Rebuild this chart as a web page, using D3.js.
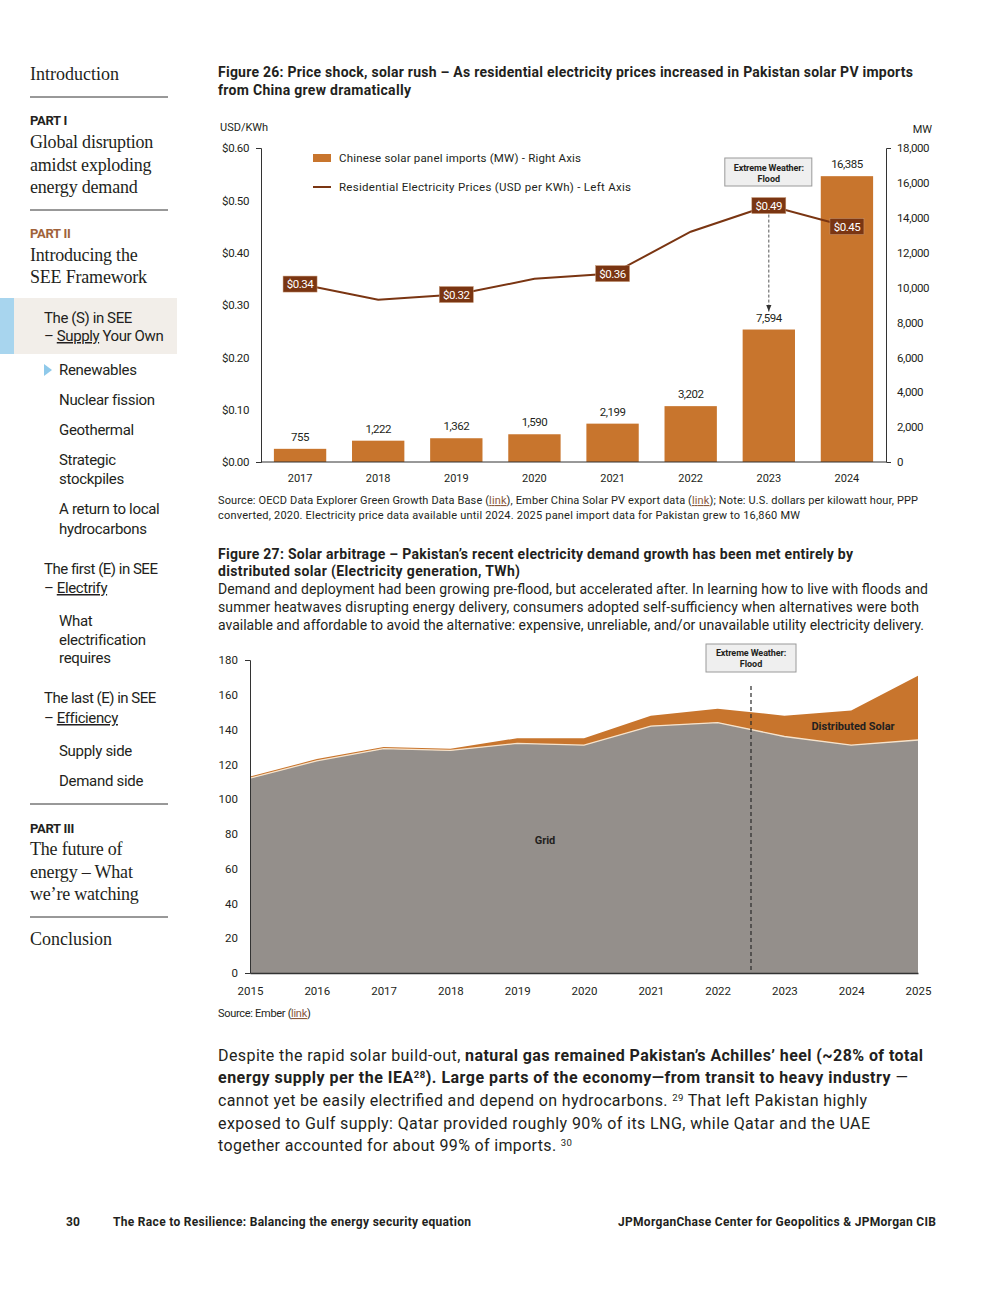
<!DOCTYPE html>
<html><head><meta charset="utf-8">
<script src="https://cdn.jsdelivr.net/npm/d3@7"></script>
<style>
html,body{margin:0;padding:0;background:#fff;}
svg{display:block;}
text{fill:#231f20;}
</style></head>
<body>
<svg id="page" width="1000" height="1293"></svg>
<script>
// ---------------- DATA ----------------
const years26 = ["2017","2018","2019","2020","2021","2022","2023","2024"];
const solarImportsMW = [755,1222,1362,1590,2199,3202,7594,16385];
const electricityPrice = [0.34,0.31,0.32,0.35,0.36,0.44,0.49,0.45];
const priceLabelYears = ["2017","2019","2021","2023","2024"];
const leftTicks26 = [0,0.1,0.2,0.3,0.4,0.5,0.6];
const rightTicks26 = [0,2000,4000,6000,8000,10000,12000,14000,16000,18000];

const years27 = [2015,2016,2017,2018,2019,2020,2021,2022,2023,2024,2025];
const gridTWh = [112,122,129,128,132,131,142,144,136,131,134];
const distributedSolarTWh = [1,1,1,1,3,4,6,8,12,20,37];
const yTicks27 = [0,20,40,60,80,100,120,140,160,180];
const floodYear = 2022.5;

const svg = d3.select("#page");
const SANS = "Roboto, 'Liberation Sans', sans-serif";
const SERIF = "'Liberation Serif', 'DejaVu Serif', serif";
const INK = "#231f20";
const ORANGE = "#c8752d";
const BROWN = "#7a3512";

function txt(x, y, s, o = {}) {
  const t = svg.append("text").attr("x", x).attr("y", y)
    .attr("font-family", o.family || SANS)
    .attr("font-size", o.size || 12)
    .attr("font-weight", o.weight || 400)
    .attr("text-anchor", o.anchor || "start")
    .style("fill", o.fill || INK);
  if (o.ls != null) t.attr("letter-spacing", o.ls);
  if (o.len) t.attr("textLength", o.len).attr("lengthAdjust", "spacing");
  if (Array.isArray(s)) {
    s.forEach(p => {
      const ts = t.append("tspan").text(p.t);
      if (p.b) ts.attr("font-weight", 700);
      if (p.sup) ts.attr("font-size", (o.size || 12) * 0.6).attr("baseline-shift", "super");
      if (p.u) ts.style("text-decoration", "underline");
      if (p.link) ts.style("fill", "#8a5a3c").style("text-decoration", "underline");
    });
  } else t.text(s);
  return t;
}
function hline(x1, x2, y, c = "#333", w = 1) {
  svg.append("line").attr("x1", x1).attr("x2", x2).attr("y1", y).attr("y2", y)
    .attr("stroke", c).attr("stroke-width", w);
}

// ---------------- SIDEBAR ----------------
txt(30, 80, "Introduction", {family: SERIF, size: 18});
hline(30, 168, 97);
txt(30, 125, "PART I", {size: 13, weight: 700, ls: -0.3});
["Global disruption", "amidst exploding", "energy demand"].forEach((s, i) =>
  txt(30, 148 + i * 22.5, s, {family: SERIF, size: 18, ls: -0.2}));
hline(30, 168, 210);
txt(30, 238, "PART II", {size: 13, weight: 700, ls: -0.3, fill: "#a0623a"});
["Introducing the", "SEE Framework"].forEach((s, i) =>
  txt(30, 261 + i * 22, s, {family: SERIF, size: 18, ls: -0.2}));
svg.append("rect").attr("x", 0).attr("y", 298).attr("width", 177).attr("height", 56).attr("fill", "#f2eee9");
svg.append("rect").attr("x", 0).attr("y", 298).attr("width", 14).attr("height", 56).attr("fill", "#a8d5ee");
txt(44, 323, "The (S) in SEE", {size: 15, ls: -0.4});
txt(44, 341, [{t: "– "}, {t: "Supply", u: true}, {t: " Your Own"}], {size: 15, ls: -0.4});
svg.append("path").attr("d", "M44,364 L52,370 L44,376 Z").attr("fill", "#8fc9ea");
const sub = [["Renewables", 375], ["Nuclear fission", 405], ["Geothermal", 435], ["Strategic", 465],
  ["stockpiles", 484], ["A return to local", 514], ["hydrocarbons", 534], ["What", 626],
  ["electrification", 645], ["requires", 663], ["Supply side", 756], ["Demand side", 786]];
sub.forEach(d => txt(59, d[1], d[0], {size: 15, ls: -0.3}));
txt(44, 574, "The first (E) in SEE", {size: 15, ls: -0.5});
txt(44, 593, [{t: "– "}, {t: "Electrify", u: true}], {size: 15, ls: -0.4});
txt(44, 703, "The last (E) in SEE", {size: 15, ls: -0.5});
txt(44, 723, [{t: "– "}, {t: "Efficiency", u: true}], {size: 15, ls: -0.4});
hline(30, 168, 804);
txt(30, 833, "PART III", {size: 13, weight: 700, ls: -0.3});
["The future of", "energy – What", "we’re watching"].forEach((s, i) =>
  txt(30, 855 + i * 22.5, s, {family: SERIF, size: 18, ls: -0.2}));
hline(30, 168, 917);
txt(30, 945, "Conclusion", {family: SERIF, size: 18});

// ---------------- FIGURE 26 ----------------
txt(218, 77, "Figure 26: Price shock, solar rush – As residential electricity prices increased in Pakistan solar PV imports", {size: 14, weight: 700, len: 695});
txt(218, 95, "from China grew dramatically", {size: 14, weight: 700, len: 193});
txt(220, 131, "USD/KWh", {size: 11});
txt(932, 133, "MW", {size: 11, anchor: "end"});

const x26 = d3.scaleBand().domain(years26).range([261, 886]).paddingInner(0.33).paddingOuter(0.165);
const yL = d3.scaleLinear().domain([0, 0.6]).range([462, 148]);
const yR = d3.scaleLinear().domain([0, 18000]).range([462, 148]);

const gL = svg.append("g").attr("transform", "translate(261,0)")
  .call(d3.axisLeft(yL).tickValues(leftTicks26).tickFormat(d3.format("$.2f")).tickSizeInner(0).tickSizeOuter(5).tickPadding(12));
const gR = svg.append("g").attr("transform", "translate(886,0)")
  .call(d3.axisRight(yR).tickValues(rightTicks26).tickFormat(d3.format(",")).tickSizeInner(0).tickSizeOuter(5).tickPadding(11));
[gL, gR].forEach(g => {
  g.selectAll("path").attr("stroke", "#333");
  g.selectAll("text").attr("font-family", SANS).attr("font-size", 11.5).style("fill", INK).attr("letter-spacing", -0.4);
});

const bars = years26.map((y, i) => ({y, v: solarImportsMW[i]}));
svg.append("g").selectAll("rect").data(bars).join("rect")
  .attr("x", d => x26(d.y)).attr("width", x26.bandwidth())
  .attr("y", d => yR(d.v)).attr("height", d => yR(0) - yR(d.v))
  .attr("fill", ORANGE);
svg.append("g").selectAll("text").data(bars).join("text")
  .attr("x", d => x26(d.y) + x26.bandwidth() / 2).attr("y", d => yR(d.v) - 8)
  .attr("text-anchor", "middle").attr("font-family", SANS).attr("font-size", 11.5)
  .attr("letter-spacing", -0.5).style("fill", INK)
  .text(d => d3.format(",")(d.v));

const gX = svg.append("g").attr("transform", "translate(0,462)")
  .call(d3.axisBottom(x26).tickSize(0).tickPadding(12));
gX.select("path").attr("stroke", "#333").attr("d", "M261,0H886");
gX.selectAll("text").attr("font-family", SANS).attr("font-size", 11).style("fill", INK);

const pts = years26.map((y, i) => ({y, v: electricityPrice[i]}));
const line26 = d3.line().x(d => x26(d.y) + x26.bandwidth() / 2).y(d => yL(d.v));
svg.append("path").datum(pts).attr("d", line26).attr("fill", "none")
  .attr("stroke", BROWN).attr("stroke-width", 2);

// flood annotation (fig 26)
const cx23 = x26("2023") + x26.bandwidth() / 2;
svg.append("defs").append("marker").attr("id", "arr").attr("viewBox", "0 0 10 10")
  .attr("refX", 10).attr("refY", 5).attr("markerWidth", 7).attr("markerHeight", 7)
  .attr("orient", "auto").append("path").attr("d", "M0,1 L10,5 L0,9 Z").attr("fill", "#333");
svg.append("line").attr("x1", cx23).attr("x2", cx23).attr("y1", yL(0.49) + 9).attr("y2", yR(7594) - 18)
  .attr("stroke", "#555").attr("stroke-width", 1).attr("stroke-dasharray", "3,2")
  .attr("marker-end", "url(#arr)");
svg.append("rect").attr("x", cx23 - 44).attr("y", 158).attr("width", 87).attr("height", 28)
  .attr("fill", "#efefef").attr("stroke", "#9a9a9a").attr("stroke-width", 1);
txt(cx23, 171, "Extreme Weather:", {size: 9, weight: 700, anchor: "middle", ls: -0.1});
txt(cx23, 182, "Flood", {size: 9, weight: 700, anchor: "middle"});

// price labels
pts.filter(d => priceLabelYears.includes(d.y)).forEach(d => {
  const cx = x26(d.y) + x26.bandwidth() / 2, cy = yL(d.v);
  svg.append("rect").attr("x", cx - 17).attr("y", cy - 8).attr("width", 34).attr("height", 16)
    .attr("fill", BROWN).attr("stroke", "#c89a78").attr("stroke-width", 0.5);
  txt(cx, cy + 4, d3.format("$.2f")(d.v), {size: 11.5, anchor: "middle", fill: "#fff", ls: -0.5});
});

// legend
svg.append("rect").attr("x", 313).attr("y", 154).attr("width", 18).attr("height", 8).attr("fill", ORANGE);
txt(339, 162, "Chinese solar panel imports (MW) - Right Axis", {size: 11.5, len: 242});
svg.append("line").attr("x1", 313).attr("x2", 331).attr("y1", 187).attr("y2", 187).attr("stroke", BROWN).attr("stroke-width", 2);
txt(339, 191, "Residential Electricity Prices (USD per KWh) - Left Axis", {size: 11.5, len: 292});

// source
txt(218, 504, [{t: "Source: OECD Data Explorer Green Growth Data Base ("}, {t: "link", link: true},
  {t: "), Ember China Solar PV export data ("}, {t: "link", link: true},
  {t: "); Note:  U.S. dollars per kilowatt hour, PPP"}], {size: 11, len: 700});
txt(218, 519, "converted, 2020. Electricity price data available until 2024. 2025 panel import data for Pakistan grew to 16,860 MW", {size: 11, len: 582});

// ---------------- FIGURE 27 ----------------
txt(218, 559, "Figure 27: Solar arbitrage – Pakistan’s recent electricity demand growth has been met entirely by", {size: 14, weight: 700, len: 635});
txt(218, 576, "distributed solar (Electricity generation, TWh)", {size: 14, weight: 700, len: 302});
txt(218, 594, "Demand and deployment had been growing pre-flood, but accelerated after. In learning how to live with floods and", {size: 14, len: 710});
txt(218, 612, "summer heatwaves disrupting energy delivery, consumers adopted self-sufficiency when alternatives were both", {size: 14, len: 701});
txt(218, 630, "available and affordable to avoid the alternative: expensive, unreliable, and/or unavailable utility electricity delivery.", {size: 14, len: 706});

const x27 = d3.scaleLinear().domain([2015, 2025]).range([250, 918]);
const y27 = d3.scaleLinear().domain([0, 180]).range([973, 660]);
const rows = years27.map((yr, i) => ({year: yr, grid: gridTWh[i], solar: distributedSolarTWh[i]}));
const stack = d3.stack().keys(["grid", "solar"])(rows);
const area = d3.area().x(d => x27(d.data.year)).y0(d => y27(d[0])).y1(d => y27(d[1]));
const colors = {grid: "#948f8b", solar: ORANGE};
svg.append("g").selectAll("path").data(stack).join("path")
  .attr("d", area).attr("fill", d => colors[d.key]);
svg.append("path").datum(stack[0])
  .attr("d", d3.line().x(d => x27(d.data.year)).y(d => y27(d[1])))
  .attr("fill", "none").attr("stroke", "#f6e3cc").attr("stroke-width", 1.3);

const gY27 = svg.append("g").attr("transform", "translate(250,0)")
  .call(d3.axisLeft(y27).tickValues(yTicks27).tickSizeInner(0).tickSizeOuter(5).tickPadding(12));
gY27.select("path").attr("stroke", "#333");
gY27.selectAll("text").attr("font-family", SANS).attr("font-size", 11.5).style("fill", INK);
const gX27 = svg.append("g").attr("transform", "translate(0,973)")
  .call(d3.axisBottom(x27).tickValues(years27).tickFormat(d3.format("d")).tickSize(0).tickPadding(14));
gX27.select("path").attr("stroke", "#333").attr("stroke-width", 1.3);
gX27.selectAll("text").attr("font-family", SANS).attr("font-size", 11.5).style("fill", INK);

const fx = x27(floodYear);
svg.append("line").attr("x1", fx).attr("x2", fx).attr("y1", 686).attr("y2", 973)
  .attr("stroke", "#2a2a2a").attr("stroke-width", 1.2).attr("stroke-dasharray", "4,3");
svg.append("rect").attr("x", fx - 45).attr("y", 644).attr("width", 90).attr("height", 28)
  .attr("fill", "#efefef").attr("stroke", "#9a9a9a").attr("stroke-width", 1);
txt(fx, 656, "Extreme Weather:", {size: 9, weight: 700, anchor: "middle", ls: -0.1});
txt(fx, 667, "Flood", {size: 9, weight: 700, anchor: "middle"});

txt(545, 844, "Grid", {size: 11, weight: 700, anchor: "middle", fill: "#231f20"});
txt(853, 730, "Distributed Solar", {size: 11, weight: 700, anchor: "middle", fill: "#231f20"});

txt(218, 1017, [{t: "Source: Ember ("}, {t: "link", link: true}, {t: ")"}], {size: 11, ls: -0.3});

// ---------------- BODY PARAGRAPH ----------------
const P = 16;
txt(218, 1061, [{t: "Despite the rapid solar build-out, "}, {t: "natural gas remained Pakistan’s Achilles’ heel (~28% of total", b: true}], {size: P, len: 705});
txt(218, 1083, [{t: "energy supply per the IEA", b: true}, {t: "28", b: true, sup: true}, {t: "). Large parts of the economy—from transit to heavy industry", b: true}, {t: " —"}], {size: P, len: 690});
txt(218, 1106, [{t: "cannot yet be easily electrified and depend on hydrocarbons. "}, {t: "29", sup: true}, {t: " That left Pakistan highly"}], {size: P, len: 649});
txt(218, 1129, "exposed to Gulf supply: Qatar provided roughly 90% of its LNG, while Qatar and the UAE", {size: P, len: 652});
txt(218, 1151, [{t: "together accounted for about 99% of imports.  "}, {t: "30", sup: true}], {size: P, len: 354});

// ---------------- FOOTER ----------------
txt(66, 1226, "30", {size: 12, weight: 700});
txt(113, 1226, "The Race to Resilience: Balancing the energy security equation", {size: 12, weight: 700, len: 358});
txt(618, 1226, "JPMorganChase Center for Geopolitics & JPMorgan CIB", {size: 12, weight: 700, len: 318});
</script>
</body></html>
